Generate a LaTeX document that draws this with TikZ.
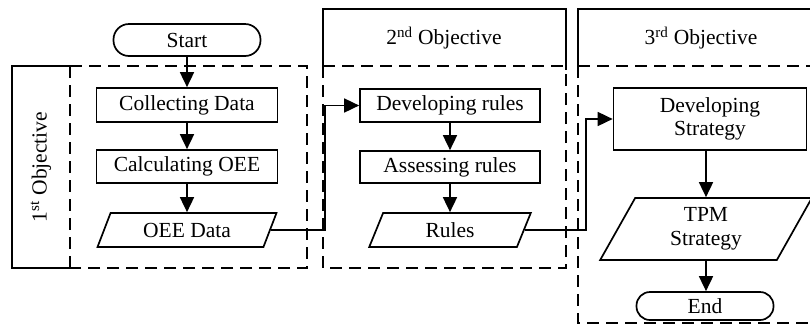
\documentclass[tikz,border=0pt]{standalone}
\usepackage{fontspec}
\setmainfont{Liberation Serif}
\usetikzlibrary{shapes.geometric,arrows.meta}
\tikzset{
  every node/.style={font=\fontsize{21.5}{23.5}\selectfont, inner sep=2pt},
  procbox/.style={draw, line width=1.7pt, rectangle},
  pill/.style={draw, line width=1.7pt, rectangle},
  iobox/.style={draw, line width=1.7pt, trapezium, trapezium stretches=true},
  flow/.style={line width=1.7pt, -{Triangle[length=15pt,width=14pt]}},
  framesolid/.style={line width=1.7pt},
  framedash/.style={line width=1.7pt, dash pattern=on 12pt off 7pt},
}
\begin{document}
\begin{tikzpicture}[x=1pt,y=-1pt]
\useasboundingbox (0,0) rectangle (810,325);
% frames
\draw[framesolid] (70,66) -- (12,66) -- (12,268) -- (70,268);
\draw[framedash] (70,66) -- (307,66) -- (307,268) -- (70,268);
\draw[framedash] (70,66) -- (70,268);
\draw[framesolid] (323,66) -- (323,9) -- (566,9) -- (566,70);
\draw[framedash] (323,66) -- (566,66);
\draw[framedash] (323,66) -- (323,268) -- (566,268) -- (566,66);
\draw[framesolid] (578,66) -- (578,9) -- (830,9);
\draw[framedash] (578,66) -- (830,66);
\draw[framedash] (578,66) -- (578,323) -- (830,323);
% labels
\node[rotate=90] (obj1) at (41,167) {1\textsuperscript{st} Objective};
\node (obj2) at (444,38) {2\textsuperscript{nd} Objective};
\node (obj3) at (701,38) {3\textsuperscript{rd} Objective};
% nodes
\node[pill, rounded corners=15.5pt, minimum width=147pt, minimum height=32pt] (start) at (187,40) {Start};
\node[procbox, minimum width=181pt, minimum height=34pt] (collect) at (187,105) {Collecting Data};
\node[procbox, minimum width=181pt, minimum height=33pt] (calc) at (187,166.5) {Calculating OEE};
\node[iobox, trapezium left angle=67, trapezium right angle=113, minimum width=179pt, minimum height=34pt] (oee) at (187,230) {OEE Data};
\node[procbox, minimum width=180pt, minimum height=33pt] (devr) at (450,105.5) {Developing rules};
\node[procbox, minimum width=180pt, minimum height=32pt] (assr) at (450,167) {Assessing rules};
\node[iobox, trapezium left angle=74, trapezium right angle=106, minimum width=162pt, minimum height=34pt] (rules) at (450,230) {Rules};
\node[procbox, minimum width=193pt, minimum height=62pt, align=center] (ds) at (710,119) {Developing\\Strategy};
\node[iobox, trapezium left angle=68, trapezium right angle=112, minimum width=212pt, minimum height=62pt, align=center] (tpm) at (706,229) {TPM\\Strategy};
\node[pill, rounded corners=13.5pt, minimum width=137pt, minimum height=28pt] (endn) at (705,306) {End};
% junction coordinates
\coordinate (j1) at (325,0);
\coordinate (j2) at (586,0);
% connectors
\draw[flow] (start) -- (collect);
\draw[flow] (collect) -- (calc);
\draw[flow] (calc) -- (oee);
\draw[flow] (devr) -- (assr);
\draw[flow] (assr) -- (rules);
\draw[flow] (ds.south -| tpm.north) -- (tpm.north);
\draw[flow] (tpm.south) -- (tpm.south |- endn.north);
\draw[flow] (oee.east) -- (oee.east -| j1) |- (devr.west);
\draw[flow] (rules.east) -- (rules.east -| j2) |- (ds.west);
\end{tikzpicture}
\end{document}
